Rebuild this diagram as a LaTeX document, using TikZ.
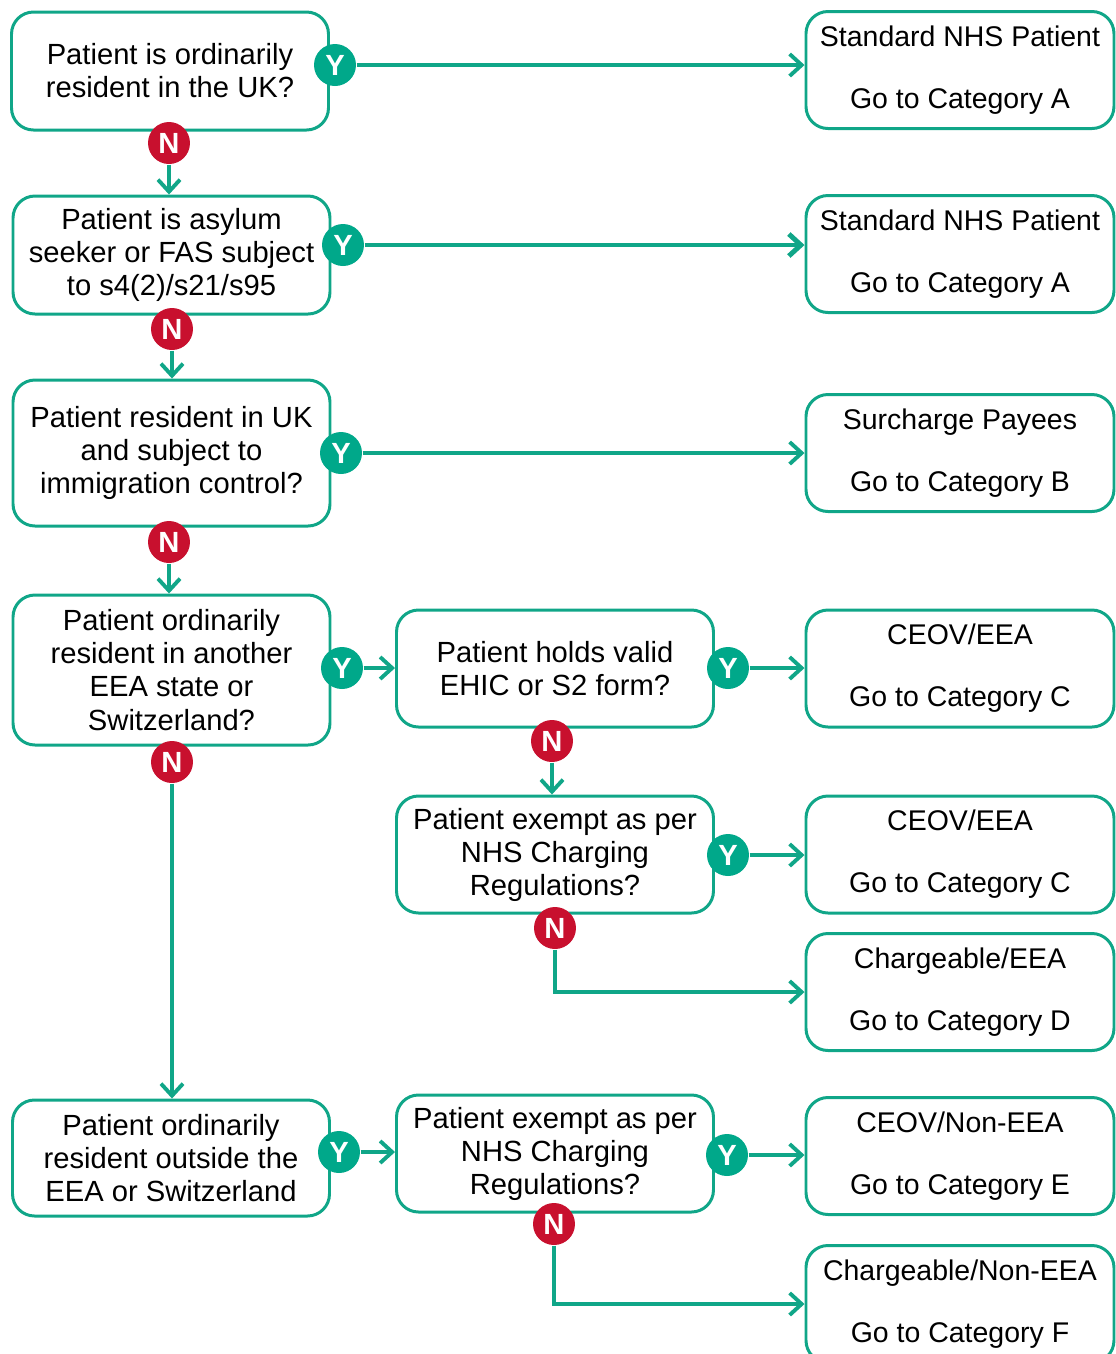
\documentclass[tikz,border=0pt]{standalone}
\usepackage{fontspec}
\setmainfont{Liberation Sans}
\usetikzlibrary{arrows.meta}
\definecolor{nhsteal}{RGB}{16,166,136}
\definecolor{yesfill}{RGB}{0,168,138}
\definecolor{nofill}{RGB}{200,16,46}
\tikzset{
  box/.style={draw=nhsteal, line width=0.85pt, rounded corners=2.2mm, fill=white,
    align=center, inner sep=0pt, font=\fontsize{8.3}{9.4}\selectfont},
  query/.style={box, minimum width=31.7mm},
  outcome/.style={box, minimum width=30.8mm, minimum height=11.7mm,
    font=\fontsize{8.1}{9.4}\selectfont},
  yes/.style={circle, fill=yesfill, text=white, minimum size=4.2mm, inner sep=0pt,
    font=\fontsize{8.3}{9.4}\selectfont\bfseries},
  no/.style={yes, fill=nofill},
  link/.style={draw=nhsteal, line width=1.1pt, -{Straight Barb[length=1.2mm,width=2.2mm]}},
}
\newcommand*{\OutcomeBoxes}[1]{% #1 = list of name/y/heading/category
\foreach \name/\y/\head/\cat in {#1} {
\node [outcome] (\name) at (960,\y) {\head\\[8.2pt]Go to Category \cat};
}%
}
\newcommand*{\Answers}[2]{% #1 = style, #2 = list of name/x/y/letter
\foreach \name/\x/\y/\letter in {#2} {
\node [#1] (\name) at (\x,\y) {\letter};
}%
}

\begin{document}
\begin{tikzpicture}[x=0.1mm,y=-0.1mm]
\clip (0,0) rectangle (1116,1354);

% questions
\node [query, minimum height=11.8mm] (q1) at (170,71) {Patient is ordinarily\\resident in the UK?};
\node [query, minimum height=11.8mm] (q2) at (171.5,255) {Patient is asylum\\seeker or FAS subject\\to s4(2)/s21/s95};
\node [query, minimum height=14.6mm] (q3) at (171.5,453) {Patient resident in UK\\and subject to\\immigration control?};
\node [query, minimum height=15mm] (q4) at (171.5,670) {Patient ordinarily\\resident in another\\EEA state or\\Switzerland?};
\node [query, minimum height=11.6mm] (q5) at (171,1158) {Patient ordinarily\\resident outside the\\EEA or Switzerland};
\node [query, minimum height=11.7mm] (m1) at (555,668.5) {Patient holds valid\\EHIC or S2 form?};
\node [query, minimum height=11.7mm] (m2) at (555,854.5) {Patient exempt as per\\NHS Charging\\Regulations?};
\node [query, minimum height=11.7mm] (m3) at (555,1153.5) {Patient exempt as per\\NHS Charging\\Regulations?};

% outcomes
\OutcomeBoxes{r1/70/Standard NHS Patient/A, r2/254/Standard NHS Patient/A,
  r3/453/Surcharge Payees/B, r4/668.5/{CEOV/EEA}/C, r5/854.5/{CEOV/EEA}/C,
  r6/992/{Chargeable/EEA}/D, r7/1156/{CEOV/Non-EEA}/E, r8/1304/{Chargeable/Non-EEA}/F}

% answers
\Answers{yes}{y1/335/65/Y, y2/343/245/Y, y3/341/453/Y, y4/342/668/Y,
  y5/728/668/Y, y6/728/855/Y, y7/339/1152/Y, y8/727/1155/Y}
\Answers{no}{n1/169/143/N, n2/172/329/N, n3/169/542/N, n4/172/762/N,
  n5/552/741/N, n6/555/928/N, n7/554/1224/N}

\draw [link] (y1) -- (y1 -| r1.west);
\draw [link, line width=1.4pt] (y2) -- (y2 -| r2.west);
\draw [link] (y3) -- (y3 -| r3.west);
\draw [link] (y4) -- (y4 -| m1.west);
\draw [link] (y5) -- (y5 -| r4.west);
\draw [link] (y6) -- (y6 -| r5.west);
\draw [link] (y7) -- (y7 -| m3.west);
\draw [link] (y8) -- (y8 -| r7.west);
\draw [link] (n1) -- (n1 |- q2.north);
\draw [link] (n2) -- (n2 |- q3.north);
\draw [link] (n3) -- (n3 |- q4.north);
\draw [link] (n4) -- (n4 |- q5.north);
\draw [link] (n5) -- (n5 |- m2.north);
\draw [link] (n6) |- (r6);
\draw [link] (n7) |- (r8);

\end{tikzpicture}
\end{document}
